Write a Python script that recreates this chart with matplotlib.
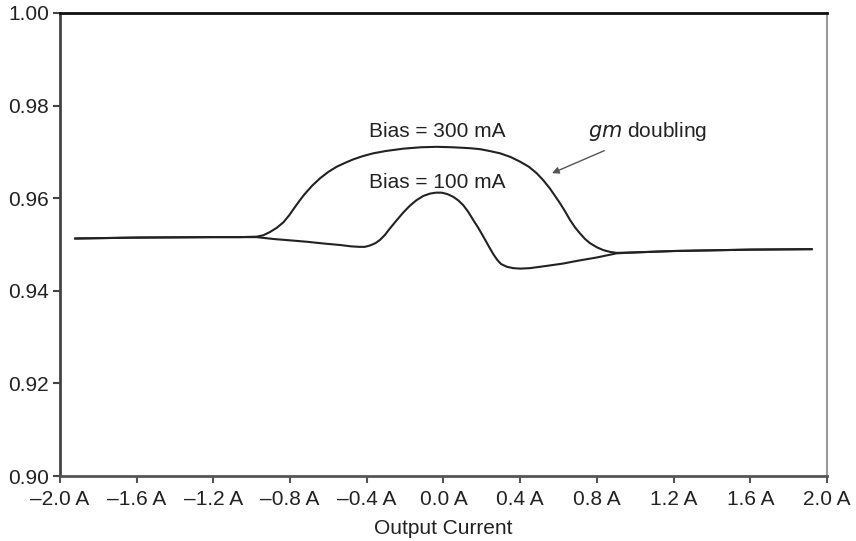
import matplotlib
matplotlib.use("Agg")
import matplotlib.pyplot as plt

plt.rcParams['font.family'] = ['Liberation Sans', 'DejaVu Sans']

# Output current (A) and normalized gain
x_300 = [-1.92, -1.6, -1.2, -1.06, -0.974, -0.94, -0.905, -0.87, -0.835, -0.805,
         -0.778, -0.75, -0.726, -0.685, -0.644, -0.60, -0.557, -0.51, -0.47, -0.42,
         -0.366, -0.30, -0.21, -0.12, -0.036, 0.05, 0.138, 0.19, 0.24, 0.295, 0.35,
         0.399, 0.445, 0.486, 0.52, 0.555, 0.58, 0.608, 0.635, 0.660, 0.686, 0.712,
         0.738, 0.764, 0.80, 0.833, 0.87, 0.903, 1.0, 1.2, 1.6, 1.92]
y_300 = [0.9513, 0.9515, 0.9516, 0.9516, 0.9517, 0.9520, 0.9527, 0.9536, 0.9548,
         0.9563, 0.9579, 0.9595, 0.9608, 0.9627, 0.9643, 0.9657, 0.9668, 0.9677,
         0.9684, 0.9691, 0.9697, 0.9702, 0.9707, 0.9710, 0.9711, 0.9710, 0.9708,
         0.9706, 0.9702, 0.9697, 0.9689, 0.9679, 0.9668, 0.9654, 0.9639, 0.9621,
         0.9606, 0.9589, 0.9571, 0.9553, 0.9537, 0.9524, 0.9512, 0.9503, 0.9494,
         0.9488, 0.9484, 0.9482, 0.9483, 0.9486, 0.9489, 0.9490]

x_100 = [-1.92, -1.6, -1.2, -0.974, -0.888, -0.80, -0.713, -0.62, -0.540, -0.48,
         -0.44, -0.41, -0.383, -0.355, -0.331, -0.305, -0.279, -0.245, -0.210,
         -0.175, -0.140, -0.105, -0.070, -0.04, -0.009, 0.02, 0.051, 0.078, 0.103,
         0.13, 0.155, 0.18, 0.208, 0.235, 0.260, 0.28, 0.30, 0.33, 0.364, 0.40,
         0.451, 0.54, 0.625, 0.70, 0.799, 0.903, 1.0, 1.2, 1.6, 1.92]
y_100 = [0.9513, 0.9515, 0.9516, 0.9516, 0.9512, 0.9509, 0.9506, 0.9502, 0.9499,
         0.9496, 0.9495, 0.9495, 0.9498, 0.9503, 0.9510, 0.9521, 0.9535, 0.9552,
         0.9569, 0.9584, 0.9596, 0.9605, 0.9610, 0.9612, 0.9612, 0.9609, 0.9603,
         0.9595, 0.9585, 0.9570, 0.9553, 0.9537, 0.9517, 0.9497, 0.9479, 0.9467,
         0.9458, 0.9452, 0.9449, 0.9448, 0.9449, 0.9454, 0.9459, 0.9465, 0.9472,
         0.9481, 0.9483, 0.9486, 0.9489, 0.9490]

xticks = [-2.0, -1.6, -1.2, -0.8, -0.4, 0.0, 0.4, 0.8, 1.2, 1.6, 2.0]
xtick_labels = ['–2.0 A', '–1.6 A', '–1.2 A', '–0.8 A', '–0.4 A', '0.0 A',
                '0.4 A', '0.8 A', '1.2 A', '1.6 A', '2.0 A']
yticks = [0.90, 0.92, 0.94, 0.96, 0.98, 1.00]

fig = plt.figure(figsize=(8.56, 5.41), dpi=100)
ax = fig.add_axes([0.0701, 0.120, 0.896, 0.856])

ax.plot(x_300, y_300, color='#222222', lw=1.5, solid_joinstyle='round')
ax.plot(x_100, y_100, color='#222222', lw=1.5, solid_joinstyle='round')

ax.set_xlim(-2.0, 2.0)
ax.set_ylim(0.90, 1.00)
ax.set_xticks(xticks)
ax.set_xticklabels(xtick_labels)
ax.set_yticks(yticks)
ax.set_yticklabels([f"{v:.2f}" for v in yticks])
ax.tick_params(axis='both', labelsize=15, length=5, width=1.5, direction='out')
ax.tick_params(axis='x', pad=5, colors='#555555', labelcolor='#222222')
ax.tick_params(axis='y', pad=3, colors='#444444', labelcolor='#222222')

ax.spines['top'].set_color('#111111')
ax.spines['top'].set_linewidth(2)
ax.spines['left'].set_color('#444444')
ax.spines['left'].set_linewidth(2)
ax.spines['bottom'].set_color('#555555')
ax.spines['bottom'].set_linewidth(2)
ax.spines['right'].set_color('#999999')
ax.spines['right'].set_linewidth(1.5)

ax.set_xlabel('Output Current', fontsize=15, color='#222222', labelpad=7)

ax.text(-0.03, 0.9743, 'Bias = 300 mA', fontsize=15, color='#222222',
        ha='center', va='center')
ax.text(-0.03, 0.9635, 'Bias = 100 mA', fontsize=15, color='#222222',
        ha='center', va='center')
ax.annotate('$\\it{gm}$ doubling', xy=(0.566, 0.9654), xytext=(0.754, 0.9743),
            fontsize=15, color='#222222', ha='left', va='center',
            arrowprops=dict(arrowstyle='-|>', color='#555555', lw=1,
                            mutation_scale=10, shrinkA=8, shrinkB=0))

fig.savefig('out.png', dpi=100)
